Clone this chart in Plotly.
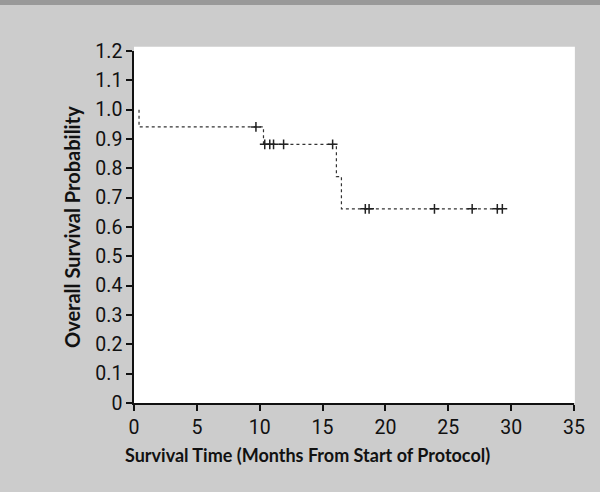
import plotly.graph_objects as go

# Kaplan-Meier step data
start_time = 0.4
event_times = [0.4, 10.3, 16.1, 16.5]
surv_after = [0.941, 0.882, 0.772, 0.662]
last_followup = 29.3

censor_times = [9.7, 10.4, 10.8, 11.1, 11.9, 15.8, 18.4, 18.7, 23.9, 26.9, 28.9, 29.3]

x_ticks = [0, 5, 10, 15, 20, 25, 30, 35]
y_ticks = [0, 0.1, 0.2, 0.3, 0.4, 0.5, 0.6, 0.7, 0.8, 0.9, 1.0, 1.1, 1.2]
y_tick_text = ["0"] + [f"{v:.1f}" for v in y_ticks[1:]]

x_title = "Survival Time (Months From Start of Protocol)"
y_title = "Overall Survival Probability"

xs = [start_time]
ys = [1.0]
for t, s in zip(event_times, surv_after):
    xs.append(t)
    ys.append(s)
xs.append(last_followup)
ys.append(surv_after[-1])


def surv_at(t):
    s = 1.0
    for et, sv in zip(event_times, surv_after):
        if et <= t:
            s = sv
    return s


censor_surv = [surv_at(t) for t in censor_times]

TICK_FONT = "Roboto, DejaVu Sans Condensed, sans-serif"
TITLE_FONT = "Lato, DejaVu Sans Condensed, sans-serif"
INK = "#111111"

fig = go.Figure()
fig.add_trace(go.Scatter(
    x=xs, y=ys, mode="lines", line_shape="hv",
    line=dict(color="#333333", width=1.2, dash="dot"),
    showlegend=False, hoverinfo="skip"))
fig.add_trace(go.Scatter(
    x=censor_times, y=censor_surv, mode="markers",
    marker=dict(symbol="cross-thin", size=7, line=dict(color="#222222", width=1.5)),
    showlegend=False, hoverinfo="skip"))

fig.update_layout(
    width=600, height=492,
    margin=dict(l=134, r=26, t=51, b=89),
    paper_bgcolor="#cccccc",
    plot_bgcolor="rgba(0,0,0,0)",
    font=dict(family=TICK_FONT, color=INK, size=17),
    shapes=[
        dict(type="rect", xref="paper", yref="paper", x0=0, x1=1.002, y0=0, y1=1.012,
             fillcolor="white", line=dict(width=0), layer="below"),
        dict(type="rect", xref="paper", yref="paper", x0=-0.4, x1=1.2, y0=1.131, y1=1.2,
             fillcolor="#999999", line=dict(width=0), layer="below"),
    ],
    annotations=[
        dict(text=f"<b>{x_title}</b>", xref="paper", yref="paper", x=0.395, y=-0.148,
             xanchor="center", yanchor="middle", showarrow=False,
             font=dict(family=TITLE_FONT, size=18, color=INK)),
        dict(text=f"<b>{y_title}</b>", xref="paper", yref="paper", x=-0.141, y=0.5,
             xanchor="center", yanchor="middle", showarrow=False, textangle=-90,
             font=dict(family=TITLE_FONT, size=20, color=INK)),
    ],
    xaxis=dict(
        range=[0, 35], tickvals=x_ticks, ticktext=[str(v) for v in x_ticks],
        showgrid=False, zeroline=False, showline=True, linecolor=INK, linewidth=1.5,
        ticks="outside", ticklen=6, tickwidth=1.5, tickcolor=INK,
        tickfont=dict(family=TICK_FONT, size=19.5, color=INK),
    ),
    yaxis=dict(
        range=[0, 1.2], tickvals=y_ticks, ticktext=y_tick_text,
        showgrid=False, zeroline=False, showline=True, linecolor=INK, linewidth=1.5,
        ticks="outside", ticklen=6, tickwidth=1.5, tickcolor=INK,
        tickfont=dict(family=TICK_FONT, size=19.5, color=INK),
    ),
)

fig.write_html("out.html")
